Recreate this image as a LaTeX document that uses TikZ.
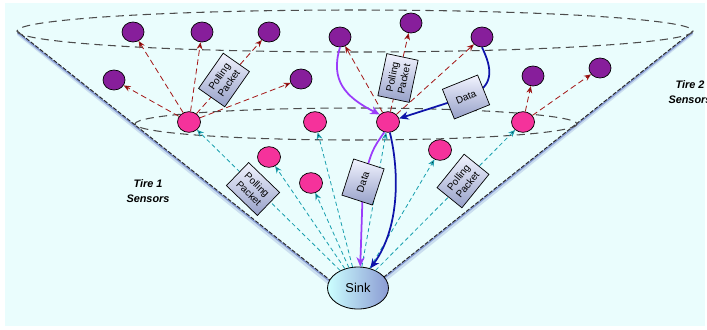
\documentclass[tikz,border=0pt]{standalone}
\usepackage{fontspec}
\setmainfont{Liberation Sans}
\usetikzlibrary{shapes.geometric,arrows.meta,shadows}

\definecolor{bgcyan}{RGB}{234,253,253}
\definecolor{shadowblue}{RGB}{110,130,200}
\definecolor{tiertwocol}{RGB}{135,30,155}
\definecolor{tieronecol}{RGB}{245,50,155}
\definecolor{pollred}{RGB}{165,25,25}
\definecolor{askcyan}{RGB}{25,160,175}
\definecolor{datapurple}{RGB}{155,60,250}
\definecolor{datablue}{RGB}{15,20,170}
\definecolor{boxlight}{RGB}{242,244,255}
\definecolor{boxdark}{RGB}{150,160,200}

\begin{document}
\begin{tikzpicture}[x=0.03cm,y=-0.03cm,
  tiertwo/.style={ellipse,draw,line width=0.6pt,fill=tiertwocol,minimum width=0.66cm,minimum height=0.6cm,inner sep=0pt},
  tierone/.style={ellipse,draw,line width=0.6pt,fill=tieronecol,minimum width=0.69cm,minimum height=0.62cm,inner sep=0pt},
  sinknode/.style={ellipse,draw,line width=0.7pt,left color=cyan!20!white,middle color=cyan!70!white,right color=shadowblue!80!white,minimum width=1.83cm,minimum height=1.26cm,inner sep=0pt,font=\fontsize{11}{13}\selectfont},
  packet/.style={draw,line width=0.6pt,top color=boxlight,bottom color=boxdark,minimum width=1.29cm,minimum height=0.96cm,inner sep=1pt,align=center,font=\fontsize{8.5}{10}\selectfont},
  datapacket/.style={packet,minimum width=1.14cm},
  tierlabel/.style={align=center,font=\fontsize{9.3}{12.5}\selectfont\bfseries\itshape},
  ringdash/.style={draw=black!70,line width=0.9pt,dash pattern=on 7pt off 4.5pt},
  conedash/.style={draw=black!85,line width=0.8pt,dash pattern=on 3.5pt off 1.5pt},
  pollarrow/.style={draw=pollred,line width=0.7pt,dash pattern=on 5pt off 3pt,-{Stealth[length=6pt,width=5pt,inset=2pt]}},
  askarrow/.style={draw=askcyan,line width=0.7pt,dash pattern=on 3.5pt off 2.5pt,-{Stealth[length=6pt,width=5pt,inset=2pt]}},
  datapath/.style={line width=1.5pt,-{Stealth[length=8pt,width=7pt,inset=2.5pt]}}]

  % page and background
  \useasboundingbox (0,0) rectangle (707,329);
  \fill[white] (0,0) rectangle (707,329);
  \fill[bgcyan] (5,3) rectangle (705,326);

  % cone
  \fill[shadowblue,opacity=0.25] (17,35) -- (355,306) -- (693,35) -- (693,31) -- (355,300) -- (17,31) -- cycle;
  \fill[bgcyan,drop shadow={shadow xshift=0pt,shadow yshift=-2pt,fill=shadowblue,opacity=0.7}]
    (17,31) -- (355,300) -- (693,31) arc[start angle=0,end angle=-180,x radius=338,y radius=21] -- cycle;
  \draw[conedash] (17,31) -- (355,300) -- (693,31);
  \draw[ringdash] (355,31) ellipse[x radius=338,y radius=21];
  \draw[ringdash] (356,124) ellipse[x radius=221,y radius=16];

  % sensors
  \foreach \name/\pos in {top1/{(133,32)},top2/{(202,32)},top3/{(269,32)},top4/{(340,37)},top5/{(411,23)},
                          top6/{(482,37)},top7/{(114,80)},top8/{(301,79)},top9/{(533,76)},top10/{(600,68)}}
    \node[tiertwo] (\name) at \pos {};
  \foreach \name/\pos in {mid1/{(189,122)},mid2/{(315,122)},mid3/{(388,122)},mid4/{(523,122)},
                          mid5/{(269,157)},mid6/{(440,150)},mid7/{(311,183)}}
    \node[tierone] (\name) at \pos {};
  \node[sinknode] (sink) at (358,288) {Sink};

  % packet positions
  \coordinate (pollA) at (224,80);
  \coordinate (pollB) at (398,78);
  \coordinate (pollC) at (253,189);
  \coordinate (pollD) at (463,181);
  \coordinate (dataA) at (466,97);
  \coordinate (dataB) at (363,182);

  % polling
  \path[pollarrow]
    (mid1) edge (top1) edge (top2) edge (top3) edge (top7) edge (top8)
    (mid3) edge (top4) edge (top5) edge (top6)
    (mid4) edge (top9) edge (top10);
  \path[askarrow]
    (sink) edge (mid1) edge (mid5) edge (mid7) edge (mid2)
           edge (mid3) edge (mid6) edge (mid4);

  % data
  \draw[datapath,datapurple] (top4.south) .. controls (330,80) and (345,97) .. (mid3.north west);
  \draw[datapath,datablue] (top6.south) .. controls (492,68) and (496,88) .. (dataA) -- (mid3);
  \draw[datapath,datapurple] (mid3.250) .. controls (372,150) .. (dataB) -- (sink.84);
  \draw[datapath,datablue] (mid3.-80) .. controls (398,165) and (402,225) .. (sink.58);

  % packets
  \node[packet,rotate=55] (packet1) at (pollA) {Polling\\Packet};
  \node[packet,rotate=78] (packet2) at (pollB) {Polling\\Packet};
  \node[packet,rotate=-44] (packet3) at (pollC) {Polling\\Packet};
  \node[packet,rotate=51] (packet4) at (pollD) {Polling\\Packet};
  \node[datapacket,rotate=22] (data1) at (dataA) {Data};
  \node[datapacket,rotate=72] (data2) at (dataB) {Data};

  \node[tierlabel] (tier1) at (148,191) {Tire 1\\Sensors};
  \node[tierlabel] (tier2) at (690,92) {Tire 2\\Sensors};

\end{tikzpicture}
\end{document}
